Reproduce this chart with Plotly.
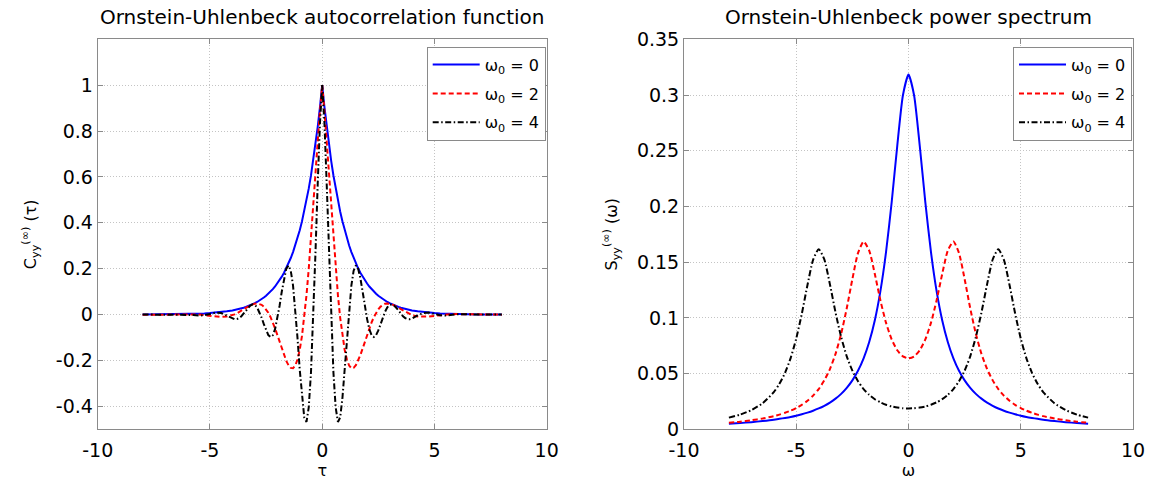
import plotly.graph_objects as go

# Autocorrelation C_yy(tau) for three oscillation frequencies
tau = [-8.0, -7.5, -7.0, -6.5, -6.0, -5.75, -5.5, -5.25, -5.0, -4.75, -4.5, -4.25,
       -4.0, -3.9, -3.8, -3.7, -3.6, -3.5, -3.4, -3.3, -3.2, -3.1, -3.0, -2.9, -2.8,
       -2.7, -2.6, -2.5, -2.4, -2.3, -2.2, -2.1, -2.0, -1.9, -1.8, -1.7, -1.6, -1.5,
       -1.4, -1.3, -1.2, -1.1, -1.0, -0.9, -0.8, -0.7, -0.6, -0.5, -0.4, -0.3, -0.2,
       -0.1, 0.0, 0.1, 0.2, 0.3, 0.4, 0.5, 0.6, 0.7, 0.8, 0.9, 1.0, 1.1, 1.2, 1.3,
       1.4, 1.5, 1.6, 1.7, 1.8, 1.9, 2.0, 2.1, 2.2, 2.3, 2.4, 2.5, 2.6, 2.7, 2.8,
       2.9, 3.0, 3.1, 3.2, 3.3, 3.4, 3.5, 3.6, 3.7, 3.8, 3.9, 4.0, 4.25, 4.5, 4.75,
       5.0, 5.25, 5.5, 5.75, 6.0, 6.5, 7.0, 7.5, 8.0]

corr_w0 = [0.0003, 0.0006, 0.0009, 0.0015, 0.0025, 0.0032, 0.0041, 0.0052, 0.0067,
           0.0087, 0.0111, 0.0143, 0.0183, 0.0202, 0.0224, 0.0247, 0.0273, 0.0302,
           0.0334, 0.0369, 0.0408, 0.0450, 0.0498, 0.0550, 0.0608, 0.0672, 0.0743,
           0.0821, 0.0907, 0.1003, 0.1108, 0.1225, 0.1353, 0.1496, 0.1653, 0.1827,
           0.2019, 0.2231, 0.2466, 0.2725, 0.3012, 0.3329, 0.3679, 0.4066, 0.4493,
           0.4966, 0.5488, 0.6065, 0.6703, 0.7408, 0.8187, 0.9048, 1.0000, 0.9048,
           0.8187, 0.7408, 0.6703, 0.6065, 0.5488, 0.4966, 0.4493, 0.4066, 0.3679,
           0.3329, 0.3012, 0.2725, 0.2466, 0.2231, 0.2019, 0.1827, 0.1653, 0.1496,
           0.1353, 0.1225, 0.1108, 0.1003, 0.0907, 0.0821, 0.0743, 0.0672, 0.0608,
           0.0550, 0.0498, 0.0450, 0.0408, 0.0369, 0.0334, 0.0302, 0.0273, 0.0247,
           0.0224, 0.0202, 0.0183, 0.0143, 0.0111, 0.0087, 0.0067, 0.0052, 0.0041,
           0.0032, 0.0025, 0.0015, 0.0009, 0.0006, 0.0003]

corr_w2 = [-0.0003, -0.0004, 0.0001, 0.0014, 0.0021, 0.0016, 0.0000, -0.0025, -0.0056,
           -0.0087, -0.0101, -0.0086, -0.0027, 0.0011, 0.0056, 0.0108, 0.0166, 0.0228,
           0.0290, 0.0351, 0.0405, 0.0448, 0.0478, 0.0487, 0.0472, 0.0427, 0.0348,
           0.0233, 0.0079, -0.0113, -0.0340, -0.0601, -0.0884, -0.1183, -0.1482,
           -0.1766, -0.2016, -0.2209, -0.2323, -0.2335, -0.2221, -0.1959, -0.1531,
           -0.0924, -0.0131, 0.0844, 0.1989, 0.3277, 0.4670, 0.6114, 0.7541, 0.8868,
           1.0000, 0.8868, 0.7541, 0.6114, 0.4670, 0.3277, 0.1989, 0.0844, -0.0131,
           -0.0924, -0.1531, -0.1959, -0.2221, -0.2335, -0.2323, -0.2209, -0.2016,
           -0.1766, -0.1482, -0.1183, -0.0884, -0.0601, -0.0340, -0.0113, 0.0079,
           0.0233, 0.0348, 0.0427, 0.0472, 0.0487, 0.0478, 0.0448, 0.0405, 0.0351,
           0.0290, 0.0228, 0.0166, 0.0108, 0.0056, 0.0011, -0.0027, -0.0086, -0.0101,
           -0.0087, -0.0056, -0.0025, 0.0000, 0.0016, 0.0021, 0.0014, 0.0001, -0.0004,
           -0.0003]

corr_w4 = [0.0003, 0.0001, -0.0009, 0.0010, 0.0011, -0.0017, -0.0041, -0.0028, 0.0027,
           0.0086, 0.0073, -0.0039, -0.0175, -0.0201, -0.0196, -0.0152, -0.0071,
           0.0041, 0.0171, 0.0297, 0.0397, 0.0444, 0.0420, 0.0313, 0.0123, -0.0131,
           -0.0417, -0.0689, -0.0893, -0.0978, -0.0899, -0.0636, -0.0197, 0.0376,
           0.1006, 0.1588, 0.2005, 0.2142, 0.1913, 0.1277, 0.0264, -0.1023, -0.2405,
           -0.3646, -0.4485, -0.4679, -0.4047, -0.2524, -0.0196, 0.2685, 0.5704,
           0.8334, 1.0000, 0.8334, 0.5704, 0.2685, -0.0196, -0.2524, -0.4047, -0.4679,
           -0.4485, -0.3646, -0.2405, -0.1023, 0.0264, 0.1277, 0.1913, 0.2142, 0.2005,
           0.1588, 0.1006, 0.0376, -0.0197, -0.0636, -0.0899, -0.0978, -0.0893,
           -0.0689, -0.0417, -0.0131, 0.0123, 0.0313, 0.0420, 0.0444, 0.0397, 0.0297,
           0.0171, 0.0041, -0.0071, -0.0152, -0.0196, -0.0201, -0.0175, -0.0039,
           0.0073, 0.0086, 0.0027, -0.0028, -0.0041, -0.0017, 0.0011, 0.0010, -0.0009,
           0.0001, 0.0003]

# Power spectrum S_yy(omega)
omega = [-8.0, -7.5, -7.0, -6.5, -6.0, -5.75, -5.5, -5.25, -5.0, -4.75, -4.5, -4.25,
         -4.0, -3.75, -3.5, -3.25, -3.0, -2.75, -2.5, -2.25, -2.0, -1.75, -1.5, -1.25,
         -1.0, -0.75, -0.5, -0.25, 0.0, 0.25, 0.5, 0.75, 1.0, 1.25, 1.5, 1.75, 2.0,
         2.25, 2.5, 2.75, 3.0, 3.25, 3.5, 3.75, 4.0, 4.25, 4.5, 4.75, 5.0, 5.25, 5.5,
         5.75, 6.0, 6.5, 7.0, 7.5, 8.0]

spec_w0 = [0.0049, 0.0056, 0.0064, 0.0074, 0.0086, 0.0094, 0.0102, 0.0111, 0.0122,
           0.0135, 0.0150, 0.0167, 0.0187, 0.0211, 0.0240, 0.0275, 0.0318, 0.0372,
           0.0439, 0.0525, 0.0637, 0.0784, 0.0979, 0.1242, 0.1592, 0.2037, 0.2546,
           0.2996, 0.3183, 0.2996, 0.2546, 0.2037, 0.1592, 0.1242, 0.0979, 0.0784,
           0.0637, 0.0525, 0.0439, 0.0372, 0.0318, 0.0275, 0.0240, 0.0211, 0.0187,
           0.0167, 0.0150, 0.0135, 0.0122, 0.0111, 0.0102, 0.0094, 0.0086, 0.0074,
           0.0064, 0.0056, 0.0049]

spec_w2 = [0.0059, 0.0068, 0.0081, 0.0097, 0.0118, 0.0132, 0.0148, 0.0167, 0.0191,
           0.0220, 0.0256, 0.0302, 0.0361, 0.0439, 0.0541, 0.0677, 0.0857, 0.1086,
           0.1348, 0.1581, 0.1685, 0.1604, 0.1393, 0.1156, 0.0955, 0.0807, 0.0709,
           0.0654, 0.0637, 0.0654, 0.0709, 0.0807, 0.0955, 0.1156, 0.1393, 0.1604,
           0.1685, 0.1581, 0.1348, 0.1086, 0.0857, 0.0677, 0.0541, 0.0439, 0.0361,
           0.0302, 0.0256, 0.0220, 0.0191, 0.0167, 0.0148, 0.0132, 0.0118, 0.0097,
           0.0081, 0.0068, 0.0059]

spec_w4 = [0.0105, 0.0132, 0.0172, 0.0234, 0.0334, 0.0408, 0.0507, 0.0639, 0.0815,
           0.1039, 0.1295, 0.1521, 0.1616, 0.1524, 0.1301, 0.1048, 0.0828, 0.0655,
           0.0526, 0.0432, 0.0361, 0.0309, 0.0270, 0.0242, 0.0220, 0.0205, 0.0195,
           0.0189, 0.0187, 0.0189, 0.0195, 0.0205, 0.0220, 0.0242, 0.0270, 0.0309,
           0.0361, 0.0432, 0.0526, 0.0655, 0.0828, 0.1048, 0.1301, 0.1524, 0.1616,
           0.1521, 0.1295, 0.1039, 0.0815, 0.0639, 0.0507, 0.0408, 0.0334, 0.0234,
           0.0172, 0.0132, 0.0105]

series_labels = ["ω<sub>0</sub> = 0", "ω<sub>0</sub> = 2", "ω<sub>0</sub> = 4"]
series_colors = ["#0000ff", "#ff0000", "#000000"]
series_dash = ["solid", "5px,3px", "6px,2.5px,1.5px,2.5px"]

x_ticks = [-10, -5, 0, 5, 10]
x_tick_text = ["-10", "-5", "0", "5", "10"]
corr_ticks = [-0.4, -0.2, 0, 0.2, 0.4, 0.6, 0.8, 1]
corr_tick_text = ["-0.4", "-0.2", "0", "0.2", "0.4", "0.6", "0.8", "1"]
spec_ticks = [0, 0.05, 0.1, 0.15, 0.2, 0.25, 0.3, 0.35]
spec_tick_text = ["0", "0.05", "0.1", "0.15", "0.2", "0.25", "0.3", "0.35"]

FONT = "DejaVu Sans, Liberation Sans, Arial, sans-serif"

fig = go.Figure()

for i, (vals, name, col, dash) in enumerate(zip([corr_w0, corr_w2, corr_w4],
                                                series_labels, series_colors,
                                                series_dash)):
    fig.add_trace(go.Scatter(x=tau, y=vals, mode="lines", name=name,
                             legendgroup=f"c{i}",
                             line=dict(color=col, width=2, dash=dash),
                             xaxis="x", yaxis="y", legend="legend"))

for i, (vals, name, col, dash) in enumerate(zip([spec_w0, spec_w2, spec_w4],
                                                series_labels, series_colors,
                                                series_dash)):
    fig.add_trace(go.Scatter(x=omega, y=vals, mode="lines", name=name,
                             legendgroup=f"s{i}",
                             line=dict(color=col, width=2, dash=dash, shape="spline",
                                       smoothing=0.6),
                             xaxis="x2", yaxis="y2", legend="legend2"))

W, H = 1153, 482
L0, L1 = 97.7, 546.7      # left panel frame, px
R0, R1 = 684.0, 1133.0    # right panel frame, px
TOP, BOT = 39.3, 429.3

axis_common = dict(
    showline=True, linecolor="#8a8a8a", linewidth=1, mirror="ticks",
    ticks="inside", ticklen=5, tickcolor="#8a8a8a",
    showgrid=True, gridcolor="#c4c4c4", griddash="1px,2px", gridwidth=1,
    zeroline=False, automargin=False,
    tickfont=dict(family=FONT, size=19, color="#000000"),
)
title_font = dict(family=FONT, size=16, color="#000000")

legend_common = dict(
    xanchor="right", yanchor="top", bgcolor="white", bordercolor="#8a8a8a",
    borderwidth=1, font=dict(family=FONT, size=16, color="#000000"),
    tracegroupgap=5, itemwidth=47,
)

fig.update_layout(
    width=W, height=H,
    margin=dict(l=0, r=0, t=0, b=0, autoexpand=False),
    paper_bgcolor="white", plot_bgcolor="white",
    font=dict(family=FONT, color="#000000"),
    xaxis=dict(domain=[L0 / W, L1 / W], range=[-10, 10], tickvals=x_ticks,
               ticktext=x_tick_text, anchor="y", ticklabelstandoff=4,
               title=dict(text="τ", font=title_font, standoff=2),
               **axis_common),
    yaxis=dict(domain=[1 - BOT / H, 1 - TOP / H], range=[-0.5, 1.2],
               tickvals=corr_ticks, ticktext=corr_tick_text, anchor="x",
               title=dict(text="C<sub>yy</sub><sup>(∞)</sup> (τ)", font=title_font,
                          standoff=15),
               **axis_common),
    xaxis2=dict(domain=[R0 / W, R1 / W], range=[-10, 10], tickvals=x_ticks,
                ticktext=x_tick_text, anchor="y2", ticklabelstandoff=4,
                title=dict(text="ω", font=title_font, standoff=2),
                **axis_common),
    yaxis2=dict(domain=[1 - BOT / H, 1 - TOP / H], range=[0, 0.35],
                tickvals=spec_ticks, ticktext=spec_tick_text, anchor="x2",
                title=dict(text="S<sub>yy</sub><sup>(∞)</sup> (ω)", font=title_font,
                           standoff=15),
                **axis_common),
    legend=dict(x=(L1 - 1) / W, y=1 - 46.7 / H, **legend_common),
    legend2=dict(x=(R1 - 1) / W, y=1 - 46.7 / H, **legend_common),
    annotations=[
        dict(text="Ornstein-Uhlenbeck autocorrelation function",
             x=(L0 + L1) / 2 / W, y=1 - 17 / H, xref="paper", yref="paper",
             showarrow=False, xanchor="center", yanchor="middle",
             font=dict(family=FONT, size=20, color="#000000")),
        dict(text="Ornstein-Uhlenbeck power spectrum",
             x=(R0 + R1) / 2 / W, y=1 - 17 / H, xref="paper", yref="paper",
             showarrow=False, xanchor="center", yanchor="middle",
             font=dict(family=FONT, size=20, color="#000000")),
    ],
)

fig.write_html("out.html")
